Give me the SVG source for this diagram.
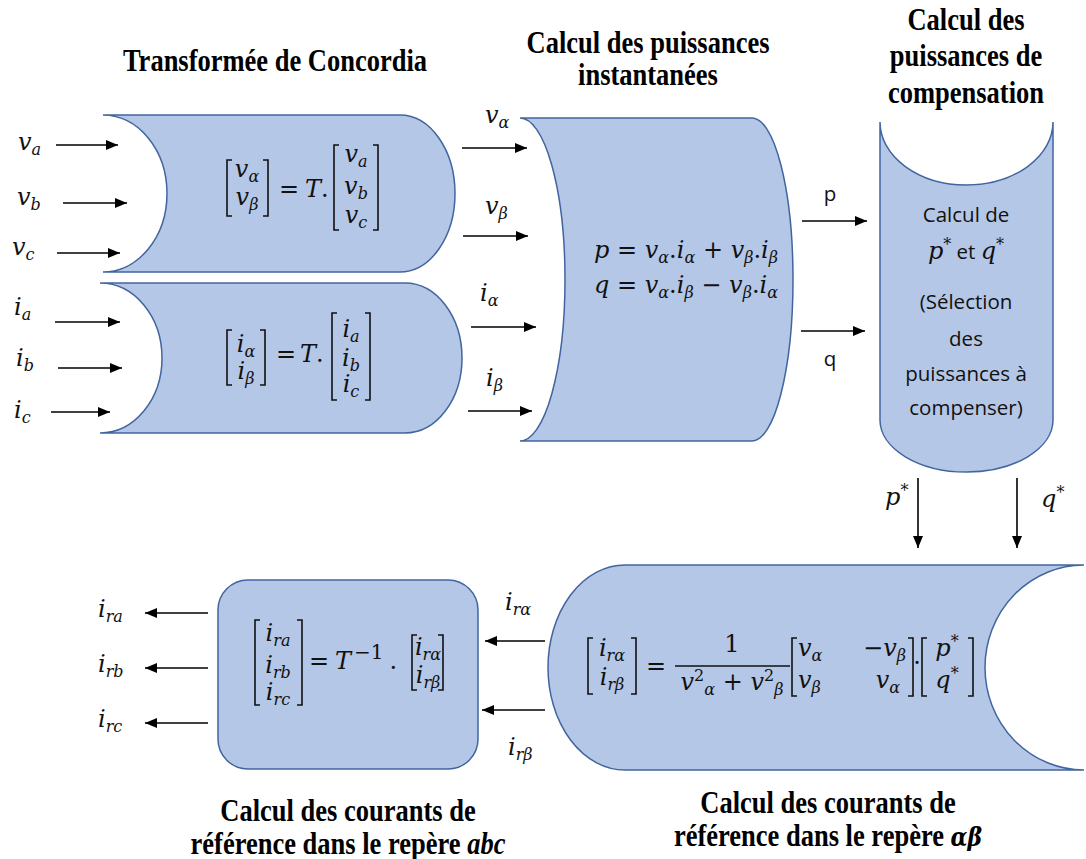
<svg xmlns="http://www.w3.org/2000/svg" width="1086" height="859" viewBox="0 0 1086 859">
<defs>
<style>
.blk{fill:#b4c7e7;stroke:#41659f;stroke-width:1.5}
.m{font-family:"DejaVu Serif",serif;font-style:italic;font-size:24px;fill:#111}
.mc{text-anchor:middle}
.op{font-style:normal}
.sb{font-size:16px}
.br{fill:none;stroke:#111;stroke-width:1.6}
.ttl{font-family:"Liberation Serif",serif;font-weight:bold;font-size:26.5px;text-anchor:middle;fill:#000}
.sans{font-family:"Open Sans","Liberation Sans",sans-serif;font-size:20.5px;text-anchor:middle;fill:#111}
.arr{stroke:#000;stroke-width:1.6;fill:none;marker-end:url(#ah)}
</style>
<marker id="ah" viewBox="0 0 12 10" refX="12" refY="5" markerWidth="12" markerHeight="10" markerUnits="userSpaceOnUse" orient="auto"><path d="M0,0 L12,5 L0,10 z" fill="#000"/></marker>
</defs>
<rect width="1086" height="859" fill="#fff"/>

<!-- titles -->
<g id="titles">
<text class="ttl" transform="translate(275,71) scale(1,1.2)">Transformée de Concordia</text>
<text class="ttl" transform="translate(648,53) scale(1,1.2)">Calcul des puissances</text>
<text class="ttl" transform="translate(648,85) scale(1,1.2)">instantanées</text>
<text class="ttl" transform="translate(966,30) scale(1,1.2)">Calcul des</text>
<text class="ttl" transform="translate(966,66) scale(1,1.2)">puissances de</text>
<text class="ttl" transform="translate(966,103) scale(1,1.2)">compensation</text>
<text class="ttl" transform="translate(348,821) scale(1,1.2)">Calcul des courants de</text>
<text class="ttl" transform="translate(348,854) scale(1,1.2)">référence dans le repère <tspan font-style="italic">abc</tspan></text>
<text class="ttl" transform="translate(828,813) scale(1,1.2)">Calcul des courants de</text>
<text class="ttl" transform="translate(828,846) scale(1,1.2)">référence dans le repère <tspan font-style="italic" font-family="DejaVu Serif,serif" font-size="22">αβ</tspan></text>
</g>

<!-- Concordia voltages -->
<g id="concordia-v">
<path class="blk" d="M103,115 H400 A55,78.5 0 0 1 400,272 H103 A64,78.5 0 0 0 103,115 Z"/>
<path class="br" d="M232,160 H227 V216 H232 M263,160 H268 V216 H263"/>
<text class="m mc" x="247" y="177">v<tspan class="sb" dy="5">α</tspan></text>
<text class="m mc" x="247" y="205">v<tspan class="sb" dy="5">β</tspan></text>
<text class="m op mc" x="289" y="197">=</text>
<text class="m" x="305" y="197">T<tspan class="op">.</tspan></text>
<path class="br" d="M339,145 H334 V230 H339 M373,145 H378 V230 H373"/>
<text class="m mc" x="356" y="162">v<tspan class="sb" dy="5">a</tspan></text>
<text class="m mc" x="356" y="194">v<tspan class="sb" dy="5">b</tspan></text>
<text class="m mc" x="356" y="223">v<tspan class="sb" dy="5">c</tspan></text>
</g>

<!-- Concordia currents -->
<g id="concordia-i">
<path class="blk" d="M100,283 H405 A57,75 0 0 1 405,433 H100 A62,75 0 0 0 100,283 Z"/>
<path class="br" d="M232,330 H227 V385 H232 M260,330 H265 V385 H260"/>
<text class="m mc" x="246" y="352">i<tspan class="sb" dy="5">α</tspan></text>
<text class="m mc" x="246" y="379">i<tspan class="sb" dy="5">β</tspan></text>
<text class="m op mc" x="286" y="362">=</text>
<text class="m" x="300" y="362">T<tspan class="op">.</tspan></text>
<path class="br" d="M337,313 H332 V400 H337 M365,313 H370 V400 H365"/>
<text class="m mc" x="351" y="337">i<tspan class="sb" dy="5">a</tspan></text>
<text class="m mc" x="351" y="366">i<tspan class="sb" dy="5">b</tspan></text>
<text class="m mc" x="351" y="392">i<tspan class="sb" dy="5">c</tspan></text>
</g>

<!-- instantaneous powers -->
<g id="powers">
<path class="blk" d="M520,118 H752 A41,161.5 0 0 1 752,441 H520 A45,161.5 0 0 0 520,118 Z"/>
<text class="m mc" x="686" y="258">p<tspan class="op"> = </tspan>v<tspan class="sb" dy="5">α</tspan><tspan class="op" dy="-5">.</tspan>i<tspan class="sb" dy="5">α</tspan><tspan class="op" dy="-5"> + </tspan>v<tspan class="sb" dy="5">β</tspan><tspan class="op" dy="-5">.</tspan>i<tspan class="sb" dy="5">β</tspan></text>
<text class="m mc" x="686" y="293">q<tspan class="op"> = </tspan>v<tspan class="sb" dy="5">α</tspan><tspan class="op" dy="-5">.</tspan>i<tspan class="sb" dy="5">β</tspan><tspan class="op" dy="-5"> − </tspan>v<tspan class="sb" dy="5">β</tspan><tspan class="op" dy="-5">.</tspan>i<tspan class="sb" dy="5">α</tspan></text>
</g>

<!-- compensation powers -->
<g id="compensation">
<path class="blk" d="M880,122 A86.5,63 0 0 0 1053,122 V420 A86.5,52 0 0 1 880,420 Z"/>
<text class="sans" x="966" y="222">Calcul de</text>
<text class="sans" x="966" y="259"><tspan class="m">p</tspan><tspan class="m sb op" dy="-9">*</tspan><tspan dy="9"> et </tspan><tspan class="m">q</tspan><tspan class="m sb op" dy="-9">*</tspan></text>
<text class="sans" x="966" y="309">(Sélection</text>
<text class="sans" x="966" y="346">des</text>
<text class="sans" x="966" y="381">puissances à</text>
<text class="sans" x="966" y="415">compenser)</text>
</g>

<!-- reference currents alpha-beta -->
<g id="ref-ab">
<path class="blk" d="M625,565 H1084 A99,102.5 0 0 0 1084,770 H625 A77,102.5 0 0 1 625,565 Z"/>
<path class="br" d="M593,638 H588 V694 H593 M631,638 H636 V694 H631"/>
<text class="m mc" x="612" y="656">i<tspan class="sb" dy="5">rα</tspan></text>
<text class="m mc" x="612" y="685">i<tspan class="sb" dy="5">rβ</tspan></text>
<text class="m op mc" x="656" y="674">=</text>
<text class="m op mc" x="732" y="652">1</text>
<line x1="675" y1="666" x2="790" y2="666" stroke="#111" stroke-width="1.4"/>
<text class="m mc" x="732" y="690">v<tspan class="sb op" dy="-9">2</tspan><tspan class="sb" dy="14">α</tspan><tspan class="op" dy="-5"> + </tspan>v<tspan class="sb op" dy="-9">2</tspan><tspan class="sb" dy="14">β</tspan></text>
<path class="br" d="M797,638 H792 V696 H797 M908,638 H913 V696 H908"/>
<text class="m" x="798" y="656">v<tspan class="sb" dy="5">α</tspan></text>
<text class="m" x="906" y="656" text-anchor="end"><tspan class="op">−</tspan>v<tspan class="sb" dy="5">β</tspan></text>
<text class="m" x="798" y="688">v<tspan class="sb" dy="5">β</tspan></text>
<text class="m" x="900" y="688" text-anchor="end">v<tspan class="sb" dy="5">α</tspan></text>
<text class="m op mc" x="917" y="671">·</text>
<path class="br" d="M927,638 H922 V696 H927 M968,638 H973 V696 H968"/>
<text class="m mc" x="947" y="656">p<tspan class="sb op" dy="-9">*</tspan></text>
<text class="m mc" x="947" y="688">q<tspan class="sb op" dy="-9">*</tspan></text>
</g>

<!-- reference currents abc -->
<g id="ref-abc">
<rect class="blk" x="218" y="580" width="260" height="189" rx="30" ry="30"/>
<path class="br" d="M260,620 H255 V705 H260 M297,620 H302 V705 H297"/>
<text class="m mc" x="278" y="641">i<tspan class="sb" dy="5">ra</tspan></text>
<text class="m mc" x="278" y="673">i<tspan class="sb" dy="5">rb</tspan></text>
<text class="m mc" x="278" y="700">i<tspan class="sb" dy="5">rc</tspan></text>
<text class="m op mc" x="319" y="669">=</text>
<text class="m" x="335" y="669">T<tspan class="op" font-size="20" dx="3" dy="-10">−1</tspan><tspan class="op" dx="6" dy="10">.</tspan></text>
<path class="br" d="M417,635 H412 V690 H417 M438,635 H443 V690 H438"/>
<text class="m mc" x="428" y="655">i<tspan class="sb" dy="5">rα</tspan></text>
<text class="m mc" x="428" y="683">i<tspan class="sb" dy="5">rβ</tspan></text>
</g>

<!-- connectors -->
<g id="connectors">
<line class="arr" x1="56" y1="145" x2="118" y2="145"/>
<line class="arr" x1="63" y1="203" x2="127" y2="203"/>
<line class="arr" x1="57" y1="253" x2="120" y2="253"/>
<line class="arr" x1="55" y1="322" x2="120" y2="322"/>
<line class="arr" x1="58" y1="368" x2="122" y2="368"/>
<line class="arr" x1="51" y1="412" x2="110" y2="412"/>
<line class="arr" x1="462" y1="148" x2="527" y2="148"/>
<line class="arr" x1="463" y1="236" x2="528" y2="236"/>
<line class="arr" x1="471" y1="327" x2="536" y2="327"/>
<line class="arr" x1="468" y1="411" x2="532" y2="411"/>
<line class="arr" x1="802" y1="221" x2="867" y2="221"/>
<line class="arr" x1="801" y1="331" x2="865" y2="331"/>
<line class="arr" x1="918" y1="478" x2="918" y2="548"/>
<line class="arr" x1="1017" y1="478" x2="1017" y2="548"/>
<line class="arr" x1="545" y1="641" x2="485" y2="641"/>
<line class="arr" x1="545" y1="710" x2="482" y2="710"/>
<line class="arr" x1="208" y1="613" x2="145" y2="613"/>
<line class="arr" x1="208" y1="668" x2="145" y2="668"/>
<line class="arr" x1="208" y1="723" x2="145" y2="723"/>
</g>

<!-- connector labels -->
<g id="labels">
<text class="m" x="18" y="150">v<tspan class="sb" dy="5">a</tspan></text>
<text class="m" x="17" y="205">v<tspan class="sb" dy="5">b</tspan></text>
<text class="m" x="12" y="255">v<tspan class="sb" dy="5">c</tspan></text>
<text class="m" x="14" y="315">i<tspan class="sb" dy="5">a</tspan></text>
<text class="m" x="16" y="366">i<tspan class="sb" dy="5">b</tspan></text>
<text class="m" x="14" y="418">i<tspan class="sb" dy="5">c</tspan></text>
<text class="m" x="485" y="123">v<tspan class="sb" dy="5">α</tspan></text>
<text class="m" x="485" y="214">v<tspan class="sb" dy="5">β</tspan></text>
<text class="m" x="480" y="301">i<tspan class="sb" dy="5">α</tspan></text>
<text class="m" x="486" y="386">i<tspan class="sb" dy="5">β</tspan></text>
<text class="sans" x="830" y="201">p</text>
<text class="sans" x="830" y="366">q</text>
<text class="m" x="885" y="505">p<tspan class="sb op" dy="-9">*</tspan></text>
<text class="m" x="1041" y="507">q<tspan class="sb op" dy="-9">*</tspan></text>
<text class="m" x="505" y="610">i<tspan class="sb" dy="5">rα</tspan></text>
<text class="m" x="508" y="755">i<tspan class="sb" dy="5">rβ</tspan></text>
<text class="m" x="98" y="617">i<tspan class="sb" dy="5">ra</tspan></text>
<text class="m" x="98" y="672">i<tspan class="sb" dy="5">rb</tspan></text>
<text class="m" x="98" y="727">i<tspan class="sb" dy="5">rc</tspan></text>
</g>
</svg>
